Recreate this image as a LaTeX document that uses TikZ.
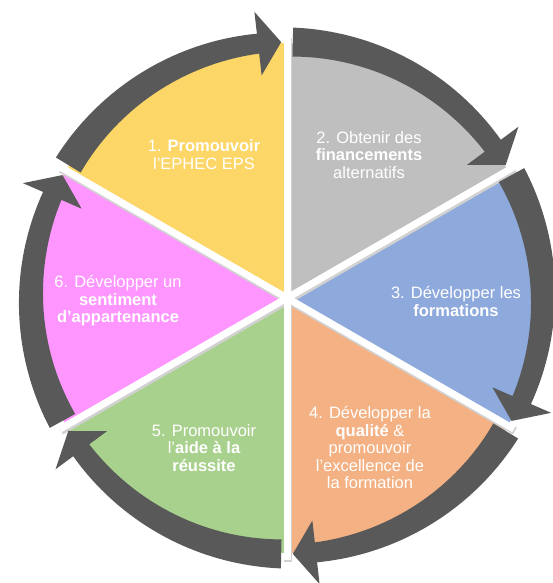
\documentclass[tikz,border=0pt]{standalone}
\usepackage{fontspec}
\setmainfont{Liberation Sans}
\definecolor{cyel}{HTML}{FDD668}
\definecolor{cgray}{HTML}{BFBFBF}
\definecolor{cblue}{HTML}{8EA9DB}
\definecolor{corange}{HTML}{F4B183}
\definecolor{cgreen}{HTML}{A9D18E}
\definecolor{cpink}{HTML}{FF96FF}
\definecolor{carrow}{HTML}{595959}
\newcommand\bsh[1]{{\bfseries #1}}
\newcommand\cycarrow[2]{%
  \pgfmathsetmacro\cyA{#1-1.3}%
  \pgfmathsetmacro\cyB{#2+1.3}%
  \pgfmathsetmacro\cyH{\cyB+5.2}%
  \fill[arrowfill] plot[domain=\cyA:\cyH, samples=40] (\x:{256+14.5-4.5*(\cyA-\x)/(\cyA-\cyH)})
    -- (\cyH:288) -- (\cyB:256) -- (\cyH:224)
    -- plot[domain=\cyH:\cyA, samples=40] (\x:{256-14.5+4.5*(\cyA-\x)/(\cyA-\cyH)}) -- cycle;
}
\tikzset{
  arrowfill/.style={fill=carrow},
  seplineshadow/.style={draw=black!18, line width=8pt},
  sepline/.style={draw=white, line width=7pt},
  lbl/.style={text=white, align=center, inner sep=0pt, font=\fontsize{16.5}{17.5}\selectfont},
}
\begin{document}
\begin{tikzpicture}[x=1pt,y=1pt]
\useasboundingbox (0,0) rectangle (552,583);
\begin{scope}[shift={(287,285)}]
  % wedges
  \fill[cyel]    (0,0) -- (90:255)  arc[start angle=90,  end angle=150, radius=255] -- cycle;
  \fill[cgray]   (0,0) -- (30:255)  arc[start angle=30,  end angle=90,  radius=255] -- cycle;
  \fill[cblue]   (0,0) -- (-30:255) arc[start angle=-30, end angle=30,  radius=255] -- cycle;
  \fill[corange] (0,0) -- (-90:255) arc[start angle=-90, end angle=-30, radius=255] -- cycle;
  \fill[cgreen]  (0,0) -- (210:255) arc[start angle=210, end angle=270, radius=255] -- cycle;
  \fill[cpink]   (0,0) -- (150:255) arc[start angle=150, end angle=210, radius=255] -- cycle;
  % separators
  \foreach \a in {30,90,150,210,270,330}{
    \draw[seplineshadow] ([shift={(1,-2)}]0,0) -- ([shift={(1,-2)}]\a:262);
  }
  \foreach \a in {30,90,150,210,270,330}{
    \draw[sepline] (0,0) -- (\a:262);
  }
  % arrows
  \cycarrow{150}{90}
  \cycarrow{90}{30}
  \cycarrow{30}{-30}
  \cycarrow{-30}{-90}
  \cycarrow{-90}{-150}
  \cycarrow{210}{150}
\end{scope}
% labels
\node[lbl] (t1) at (204,428.5) {1. \bsh{Promouvoir}\\l'EPHEC EPS};
\node[lbl] (t2) at (369,428) {2. Obtenir des\\\bsh{financements}\\alternatifs};
\node[lbl] (t3) at (456,281.5) {3. Développer les\\\bsh{formations}};
\node[lbl] (t4) at (370,135) {4. Développer la\\\bsh{qualité} \&\\promouvoir\\l’excellence de\\la formation};
\node[lbl] (t5) at (204,135) {5. Promouvoir\\l’\bsh{aide à la}\\\bsh{réussite}};
\node[lbl] (t6) at (118,282) {6. Développer un\\\bsh{sentiment}\\\bsh{d’appartenance}};
\end{tikzpicture}
\end{document}
